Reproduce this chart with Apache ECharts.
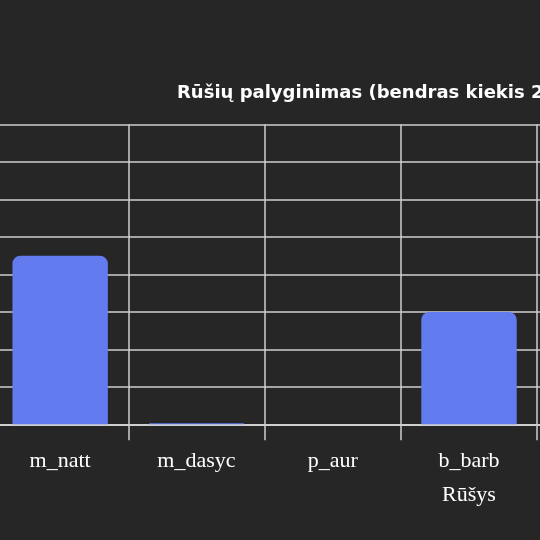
<!DOCTYPE html>
<html>
<head>
<meta charset="utf-8">
<script src="https://cdn.jsdelivr.net/npm/echarts@6/dist/echarts.min.js"></script>
<style>
  html, body { margin: 0; padding: 0; background: #262626; overflow: hidden; }
  #wrap { position: absolute; left: 0; top: 0; width: 540px; height: 540px; overflow: hidden; }
  #container { position: absolute; left: -100px; top: 0; width: 1100px; height: 540px; }
</style>
</head>
<body>
<div id="wrap"><div id="container"></div></div>
<script>
var chartTitle = "Rūšių palyginimas (bendras kiekis 2024 m.)";
var axisName = "Rūšys";
var species = ["m_natt", "m_dasyc", "p_aur", "b_barb", "p_pip", "e_ser", "n_noc"];
var totals = [9, 0.05, 0, 6, 12, 4, 7];
var yMax = 16;
var yStep = 2;

(function() {
  var dom = document.getElementById("container");
  var myChart = echarts.init(dom);
  var option = null;
  // pilkos linijos ant tamsaus fono
  var lineColor = "#cfcfcf";
  option = {
    backgroundColor: "#262626",
    animation: false,
    title: {
      text: chartTitle,
      left: 272,
      top: 79,
      textStyle: {
        color: "#ffffff",
        fontFamily: "DejaVu Sans",
        fontWeight: "bold",
        fontSize: 18
      }
    },
    grid: { left: 92, right: 54, top: 124.5, bottom: 115.7 },
    xAxis: {
      type: "category",
      data: species,
      name: axisName,
      nameLocation: "middle",
      nameGap: 60,
      nameTextStyle: { color: "#ffffff", fontFamily: "Liberation Serif", fontSize: 22 },
      axisLine: { lineStyle: { color: lineColor, width: 2 } },
      axisTick: { show: true, length: 16, lineStyle: { color: lineColor, width: 1.5 } },
      axisLabel: { color: "#ffffff", fontFamily: "Liberation Serif", fontSize: 22, margin: 26, interval: 0 },
      splitLine: { show: true, interval: 0, lineStyle: { color: lineColor, width: 1.5 } }
    },
    yAxis: {
      type: "value",
      min: 0,
      max: yMax,
      interval: yStep,
      axisLine: { show: false },
      axisTick: { show: false },
      axisLabel: { color: "#ffffff" },
      splitLine: { lineStyle: { color: lineColor, width: 1.5 } }
    },
    series: [
      {
        name: "Kiekis",
        type: "bar",
        barWidth: "70%",
        data: totals,
        itemStyle: {
          color: "#627bef",
          borderRadius: [8, 8, 0, 0]
        }
      }
    ]
  };
  if (option && typeof option === "object") {
    myChart.setOption(option, true);
  }
})();
</script>
</body>
</html>
